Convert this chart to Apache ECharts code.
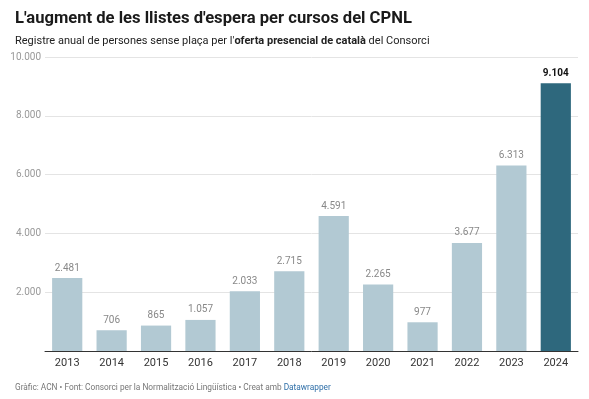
<!DOCTYPE html>
<html>
<head>
<meta charset="utf-8">
<script src="https://cdn.jsdelivr.net/npm/echarts@6/dist/echarts.min.js"></script>
<style>
  html, body { margin: 0; padding: 0; background: #fff; }
  #chart { width: 589px; height: 399px; }
</style>
</head>
<body>
<div id="chart"></div>
<script>
// dades
var years = ['2013', '2014', '2015', '2016', '2017', '2018', '2019', '2020', '2021', '2022', '2023', '2024']
var waiting = [2481, 706, 865, 1057, 2033, 2715, 4591, 2265, 977, 3677, 6313, 9104]
var yTicks = [0, 2000, 4000, 6000, 8000, 10000]

var fontFam = 'Roboto, "Noto Sans", sans-serif'

function fmt (v) {
  return String(v).replace(/\B(?=(\d{3})+(?!\d))/g, '.')
}

var chart = echarts.init(document.getElementById('chart'))

var barData = waiting.map(function (v, i) {
  var last = i === waiting.length - 1
  return {
    value: v,
    itemStyle: { color: last ? '#2e687d' : '#b2c9d3' },
    label: last ? { color: '#111', fontWeight: 'bold' } : {}
  }
})

var option = {
  animation: false,
  textStyle: { fontFamily: fontFam },
  title: [
    {
      text: "L'augment de les llistes d'espera per cursos del CPNL",
      left: 10, top: 5,
      textStyle: { fontSize: 16.6, fontWeight: 'bold', color: '#1a1a1a', fontFamily: fontFam }
    },
    {
      text: "{n|Registre anual de persones sense plaça per l'}{b|oferta presencial de català}{n| del Consorci}",
      left: 10, top: 31,
      textStyle: {
        fontWeight: 'normal',
        rich: {
          n: { fontSize: 11, color: '#222', fontWeight: 'normal', fontFamily: fontFam },
          b: { fontSize: 11, color: '#222', fontWeight: 'bold', fontFamily: fontFam }
        }
      }
    },
    {
      text: '{g|Gràfic: ACN • Font: Consorci per la Normalització Lingüística • Creat amb }{l|Datawrapper}',
      left: 10, top: 379,
      textStyle: {
        fontWeight: 'normal',
        rich: {
          g: { fontSize: 8.3, color: '#777', fontWeight: 'normal', fontFamily: fontFam },
          l: { fontSize: 8.3, color: '#2f6fa8', fontWeight: 'normal', fontFamily: fontFam }
        }
      }
    }
  ],
  grid: { left: 45, right: 11, top: 57, bottom: 48, containLabel: false },
  xAxis: {
    type: 'category',
    data: years,
    axisTick: { show: false },
    axisLine: { show: true, lineStyle: { color: '#333', width: 1 } },
    axisLabel: { color: '#333', fontSize: 11, margin: 7 }
  },
  yAxis: {
    type: 'value',
    min: yTicks[0],
    max: yTicks[yTicks.length - 1],
    interval: 2000,
    axisLine: { show: false },
    axisTick: { show: false },
    splitLine: { lineStyle: { color: '#e4e4e4', width: 1 } },
    axisLabel: {
      color: '#999',
      fontSize: 10,
      margin: 4,
      formatter: function (v) { return v === 0 ? '' : fmt(v) }
    }
  },
  series: [
    {
      type: 'bar',
      data: barData,
      barCategoryGap: '32%',
      label: {
        show: true,
        position: 'top',
        distance: 5,
        color: '#888',
        fontSize: 10,
        formatter: function (p) { return fmt(p.value) }
      }
    }
  ]
}

chart.setOption(option)
</script>
</body>
</html>
